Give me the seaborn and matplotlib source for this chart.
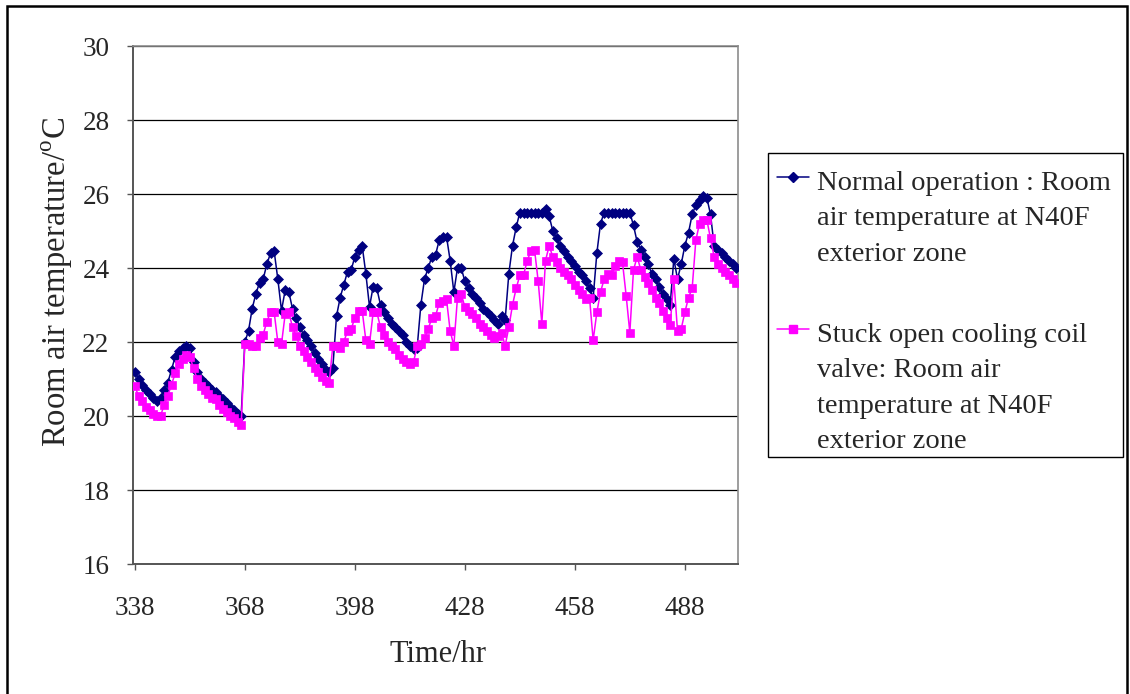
import numpy as np
import pandas as pd
import matplotlib
matplotlib.use("Agg")
import matplotlib.pyplot as plt
import seaborn as sns
from matplotlib.patches import Rectangle
from matplotlib.lines import Line2D

# ---------------- data ----------------
hours = list(range(338, 503))

normal = [
    # 338-367
    21.2, 21.0, 20.85, 20.7, 20.6, 20.5, 20.4, 20.5, 20.7, 20.9,
    21.25, 21.6, 21.75, 21.85, 21.9, 21.85, 21.45, 21.2, 21.0, 20.9,
    20.8, 20.7, 20.65, 20.55, 20.45, 20.35, 20.25, 20.15, 20.05, 20.0,
    # 368-391
    22.0, 22.3, 22.9, 23.3, 23.6, 23.7, 24.1, 24.4, 24.45, 23.7,
    22.85, 23.4, 23.35, 22.9, 22.65, 22.4, 22.2, 22.05, 21.9, 21.7,
    21.55, 21.4, 21.25, 21.2,
    # 392-415
    21.3, 22.7, 23.2, 23.55, 23.9, 23.95, 24.3, 24.5, 24.6, 23.85,
    22.95, 23.5, 23.45, 23.0, 22.8, 22.65, 22.5, 22.4, 22.3, 22.2,
    22.0, 21.9, 21.8, 21.85,
    # 416-439
    23.0, 23.7, 24.0, 24.3, 24.35, 24.75, 24.85, 24.85, 24.2, 23.35,
    24.0, 24.0, 23.65, 23.45, 23.3, 23.2, 23.05, 22.9, 22.8, 22.7,
    22.6, 22.5, 22.7, 22.6,
    # 440-463
    23.85, 24.6, 25.1, 25.5, 25.5, 25.5, 25.5, 25.5, 25.5, 25.5,
    25.6, 25.4, 25.0, 24.8, 24.6, 24.45, 24.3, 24.2, 24.05, 23.9,
    23.8, 23.65, 23.45, 23.2,
    # 464-487
    24.4, 25.2, 25.5, 25.5, 25.5, 25.5, 25.5, 25.5, 25.5, 25.5,
    25.15, 24.7, 24.5, 24.3, 24.1, 23.85, 23.7, 23.5, 23.3, 23.15,
    23.0, 24.25, 23.7, 24.1,
    # 488-502
    24.6, 24.95, 25.45, 25.7, 25.85, 25.95, 25.9, 25.45, 24.6, 24.5,
    24.4, 24.3, 24.2, 24.1, 24.0,
]

stuck = [
    # 338-367
    20.8, 20.55, 20.4, 20.25, 20.15, 20.05, 20.0, 20.0, 20.3, 20.55,
    20.85, 21.15, 21.4, 21.55, 21.65, 21.6, 21.3, 21.0, 20.8, 20.7,
    20.6, 20.5, 20.45, 20.3, 20.2, 20.1, 20.0, 19.95, 19.85, 19.75,
    # 368-391
    21.95, 21.95, 21.9, 21.9, 22.1, 22.2, 22.55, 22.8, 22.8, 22.0,
    21.95, 22.75, 22.8, 22.4, 22.15, 21.9, 21.75, 21.6, 21.45, 21.3,
    21.2, 21.05, 20.95, 20.9,
    # 392-415
    21.9, 21.9, 21.85, 22.0, 22.3, 22.35, 22.65, 22.85, 22.85, 22.05,
    21.95, 22.8, 22.8, 22.4, 22.2, 22.0, 21.9, 21.8, 21.65, 21.55,
    21.45, 21.4, 21.45, 21.9,
    # 416-439
    21.95, 22.1, 22.35, 22.65, 22.7, 23.05, 23.1, 23.15, 22.3, 21.9,
    23.2, 23.3, 22.95, 22.85, 22.75, 22.65, 22.5, 22.4, 22.3, 22.2,
    22.1, 22.15, 22.25, 21.9,
    # 440-463
    22.4, 23.0, 23.45, 23.8, 23.8, 24.2, 24.45, 24.5, 23.65, 22.5,
    24.2, 24.6, 24.3, 24.15, 24.0, 23.9, 23.8, 23.7, 23.55, 23.4,
    23.3, 23.15, 23.2, 22.05,
    # 464-487
    22.8, 23.35, 23.7, 23.85, 23.8, 24.05, 24.2, 24.15, 23.25, 22.25,
    23.95, 24.3, 23.95, 23.75, 23.6, 23.4, 23.2, 23.05, 22.85, 22.65,
    22.45, 23.7, 22.3, 22.35,
    # 488-502
    22.8, 23.2, 23.45, 24.75, 25.2, 25.3, 25.3, 24.8, 24.3, 24.1,
    24.0, 23.9, 23.8, 23.7, 23.6,
]

x_ticks = [338, 368, 398, 428, 458, 488]
y_ticks = [16, 18, 20, 22, 24, 26, 28, 30]

legend_normal = ["Normal operation : Room", "air temperature at N40F", "exterior zone"]
legend_stuck = ["Stuck open cooling coil", "valve: Room air",
                "temperature at N40F", "exterior zone"]

NAVY = "#000080"
MAGENTA = "#FF00FF"

# ---------------- style ----------------
sns.set_style("white")
plt.rcParams["font.family"] = ["Liberation Serif", "DejaVu Serif"]
plt.rcParams["mathtext.fontset"] = "custom"
plt.rcParams["mathtext.rm"] = "Liberation Serif"

W, H = 1130, 694
fig = plt.figure(figsize=(W / 100, H / 100), dpi=100)
fig.patch.set_facecolor("white")
ax = fig.add_axes([133 / W, 1 - 564 / H, 605 / W, 518 / H])

df_n = pd.DataFrame({"hour": hours, "temp": normal})
df_s = pd.DataFrame({"hour": hours, "temp": stuck})

sns.lineplot(data=df_n, x="hour", y="temp", ax=ax, color=NAVY,
             marker="D", markersize=5.0, markeredgecolor=NAVY,
             markeredgewidth=0.5, linewidth=1.1, errorbar=None, zorder=3)
sns.lineplot(data=df_s, x="hour", y="temp", ax=ax, color=MAGENTA,
             marker="s", markersize=5.6, markeredgecolor=MAGENTA,
             markeredgewidth=0.5, linewidth=1.1, errorbar=None, zorder=4)

ax.set_xlim(337.5, 502.5)
ax.set_ylim(16, 30)
ax.set_xticks(x_ticks)
ax.set_xticklabels([str(t) for t in x_ticks])
ax.set_yticks(y_ticks)
ax.set_yticklabels([str(t) for t in y_ticks])

ax.yaxis.grid(True, color="black", linewidth=0.9)
ax.xaxis.grid(False)
ax.set_axisbelow(True)

for side in ["top", "right"]:
    ax.spines[side].set_color("#8c8c8c")
    ax.spines[side].set_linewidth(1.2)
for side in ["left", "bottom"]:
    ax.spines[side].set_color("#555555")
    ax.spines[side].set_linewidth(1.4)

ax.tick_params(axis="y", which="major", direction="out", length=4, width=1,
               color="#555555", labelsize=19.5, pad=13, left=True)
ax.tick_params(axis="x", which="major", direction="out", length=4, width=1,
               color="#555555", labelsize=19.5, pad=19, bottom=True)

ax.set_xlabel("Time/hr", fontsize=22)
ax.set_ylabel(r"Room air temperature/$^{\mathrm{o}}$C", fontsize=23.5)
ax.xaxis.set_label_coords((438 - 133) / 605, -(655 - 564) / 518)
ax.xaxis.label.set_va("center")
ax.yaxis.set_label_coords((57 - 133) / 605, (564 - 282) / 518)
ax.yaxis.label.set_va("center")
ax.yaxis.label.set_ha("center")

# ---------------- legend (manual, first-line aligned handles) ----------------
def fx(px):
    return px / W

def fy(py):
    return 1 - py / H

fig.patches.append(Rectangle((fx(768), fy(457)), (1123 - 768) / W, (457 - 153) / H,
                             transform=fig.transFigure, facecolor="white",
                             edgecolor="black", linewidth=1.0, zorder=1))

for color, marker, ms, y_handle, lines, y_base0 in [
    (NAVY, "D", 5.0, 177, legend_normal, 190),
    (MAGENTA, "s", 5.6, 329, legend_stuck, 342),
]:
    fig.add_artist(Line2D([fx(777), fx(809)], [fy(y_handle), fy(y_handle)],
                          transform=fig.transFigure, color=color, linewidth=1.1,
                          zorder=2))
    fig.add_artist(Line2D([fx(793)], [fy(y_handle)], transform=fig.transFigure,
                          color=color, marker=marker, markersize=ms,
                          markeredgecolor=color, linestyle="none", zorder=3))
    for i, line in enumerate(lines):
        fig.text(fx(817), fy(y_base0 + 35.3 * i), line, fontsize=20.5,
                 ha="left", va="baseline", zorder=3)

# outer frame
fig.patches.append(Rectangle((fx(7), -0.05), (1127 - 7) / W, fy(6) + 0.05,
                             transform=fig.transFigure, fill=False,
                             edgecolor="black", linewidth=1.8, zorder=0))

fig.savefig("out.png", dpi=100, facecolor="white")
